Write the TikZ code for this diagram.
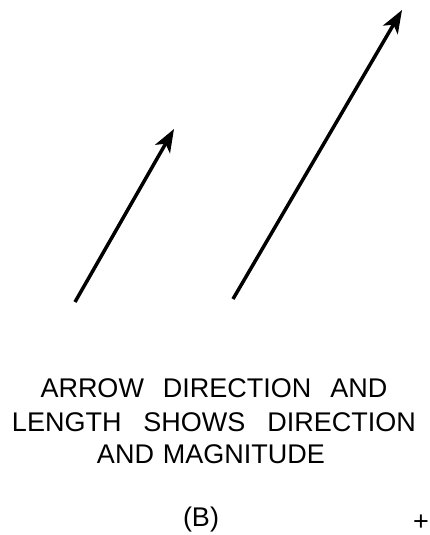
\documentclass[tikz,border=0pt]{standalone}
\usepackage{fontspec}
\setmainfont{Liberation Sans}
\usetikzlibrary{arrows.meta}
\begin{document}
\begin{tikzpicture}[x=1pt,y=-1pt,
  vec/.style={line width=3.5pt,-{Stealth[length=23pt,width=17pt,inset=6pt]}},
  lbl/.style={font=\fontsize{27}{33}\selectfont,inner sep=0pt,anchor=base}]
\useasboundingbox (0,0) rectangle (430,535);
\coordinate (a1) at (75,302);
\coordinate (b1) at (174,129);
\coordinate (a2) at (233,299);
\coordinate (b2) at (402,10);
\draw[vec] (a1) -- (b1);
\draw[vec] (a2) -- (b2);
\node[lbl] (l1) at (214,397) {ARROW\hspace{19pt}DIRECTION\hspace{19pt}AND};
\node[lbl] (l2) at (214,431) {LENGTH\hspace{22pt}SHOWS\hspace{22pt}DIRECTION};
\node[lbl] (l3) at (211,463) {AND\hspace{9pt}MAGNITUDE};
\node[lbl] (b) at (201,526) {(B)};
\node[lbl] (plus) at (421,530) {+};
\end{tikzpicture}
\end{document}
